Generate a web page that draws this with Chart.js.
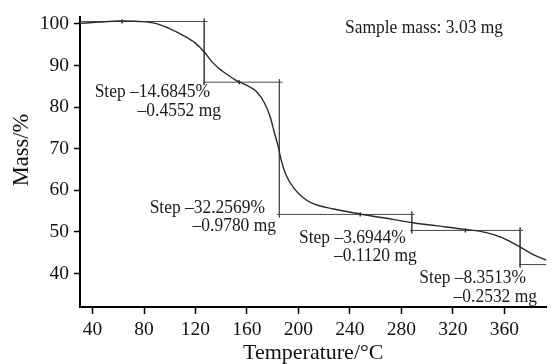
<!DOCTYPE html>
<html>
<head>
<meta charset="utf-8">
<script src="https://cdn.jsdelivr.net/npm/chart.js@4/dist/chart.umd.min.js"></script>
<style>
  html, body { margin: 0; padding: 0; background: #fff; }
  #wrap { width: 552px; height: 364px; }
</style>
</head>
<body>
<div id="wrap"><canvas id="tga"></canvas></div>
<script>
// TG curve (temperature in °C, mass in %)
const temps = [30.3, 45, 61, 76, 89, 99.4, 109.6, 119.9, 127, 132.6, 137.8, 143, 151.8, 154, 159.5, 167.2, 173.6, 177.9, 181.3, 184.4, 186.4, 190.2, 196.7, 203.1, 210, 227.4, 248, 273.5, 289, 306.7, 329.8, 345.2, 357.9, 365.6, 372, 381, 392.8];
const mass  = [100.15, 100.45, 100.7, 100.6, 100.15, 98.95, 97.4, 95.4, 93.2, 91.0, 89.4, 88.2, 86.4, 86.1, 85.3, 83.8, 81.0, 77.8, 73.9, 70.4, 67.5, 63.8, 60.4, 58.4, 57.0, 55.5, 54.3, 53.0, 52.2, 51.5, 50.6, 49.9, 48.7, 47.5, 46.4, 44.8, 43.2];

// step evaluation
const stepTemps  = [126.8, 185.2, 288.1, 372.3];
const stepLevels = [100.6, 86.0, 54.2, 50.35, 42.15];
const levelFrom  = [30.3, 125.8, 183.3, 286.8, 371.5];
const levelTo    = [129.3, 187.7, 290.1, 374.7, 392.8];
const refTemps   = [63, 154, 248, 329.8];
const stepPct    = ['Step \u201314.6845%', 'Step \u201332.2569%', 'Step \u20133.6944%', 'Step \u20138.3513%'];
const stepMass   = ['\u20130.4552 mg', '\u20130.9780 mg', '\u20130.1120 mg', '\u20130.2532 mg'];

// axis ticks
const xTicks = [40, 80, 120, 160, 200, 240, 280, 320, 360];
const yTicks = [40, 50, 60, 70, 80, 90, 100];

const SERIF = '"Liberation Serif", "Times New Roman", serif';

// where the step texts sit (right edge and middle of first line, px)
const labelAt = [[210, 92], [265, 207.5], [405.7, 237.5], [526, 278.3]];

const curve = temps.map((t, i) => ({ x: t, y: mass[i] }));

// construction lines, null points break the segments
const overhang = 0.7;
const guides = [];
levelFrom.forEach((f, i) => {
  guides.push({ x: f, y: stepLevels[i] }, { x: levelTo[i], y: stepLevels[i] }, { x: levelTo[i], y: null });
});
stepTemps.forEach((t, i) => {
  guides.push({ x: t, y: stepLevels[i] + overhang }, { x: t, y: stepLevels[i + 1] - overhang }, { x: t, y: null });
});
const refMarks = refTemps.map((t, i) => ({ x: t, y: stepLevels[i] }));

// text a bit narrower than it is tall, like the scan
function squeezed(ctx, text, x, y) {
  ctx.save();
  ctx.translate(x, y);
  ctx.scale(0.9, 1);
  ctx.fillText(text, 0, 0);
  ctx.restore();
}

const textPlugin = {
  id: 'stepText',
  afterDatasetsDraw(chart) {
    const ctx = chart.ctx;
    ctx.save();
    ctx.fillStyle = '#1a1a1a';
    ctx.font = '19.4px ' + SERIF;
    ctx.textBaseline = 'middle';
    ctx.textAlign = 'right';
    labelAt.forEach((p, i) => {
      squeezed(ctx, stepPct[i], p[0], p[1]);
      squeezed(ctx, stepMass[i], p[0] + 11, p[1] + 18.5);
    });
    ctx.textAlign = 'left';
    squeezed(ctx, 'Sample mass: 3.03 mg', 345, 28);

    // y axis title
    ctx.font = '22.5px ' + SERIF;
    ctx.textAlign = 'center';
    ctx.fillStyle = '#111';
    ctx.translate(22, 150);
    ctx.rotate(-Math.PI / 2);
    ctx.fillText('Mass/%', 0, 0);
    ctx.restore();
  }
};

new Chart(document.getElementById('tga'), {
  type: 'scatter',
  data: {
    datasets: [
      {
        data: curve,
        showLine: true,
        borderColor: '#2a2a2a',
        borderWidth: 1.4,
        pointRadius: 0,
        cubicInterpolationMode: 'monotone'
      },
      {
        data: guides,
        showLine: true,
        spanGaps: false,
        borderColor: '#4a4a4a',
        borderWidth: 1,
        pointRadius: 0
      },
      {
        data: refMarks,
        showLine: false,
        pointStyle: 'line',
        rotation: 90,
        pointRadius: 2,
        borderColor: '#222',
        borderWidth: 1.5
      }
    ]
  },
  options: {
    responsive: true,
    maintainAspectRatio: false,
    animation: false,
    layout: { padding: { top: 15, right: 0, left: 0, bottom: 0 } },
    plugins: { legend: { display: false }, tooltip: { enabled: false } },
    scales: {
      x: {
        type: 'linear',
        min: 30.25,
        max: 392.8,
        afterBuildTicks: s => { s.ticks = xTicks.map(v => ({ value: v })); },
        afterFit: s => { s.height = 57; },
        border: { color: '#000', width: 2 },
        grid: { drawOnChartArea: false, drawTicks: true, tickLength: 7, tickColor: '#000', tickWidth: 1.5 },
        ticks: { color: '#111', padding: 4, maxRotation: 0, font: { family: SERIF, size: 19.5 } },
        title: {
          display: true,
          text: 'Temperature/°C',
          color: '#111',
          padding: 0,
          font: { family: SERIF, size: 22, lineHeight: 1 }
        }
      },
      y: {
        type: 'linear',
        min: 31.94,
        max: 101.75,
        afterBuildTicks: s => { s.ticks = yTicks.map(v => ({ value: v })); },
        afterFit: s => { s.width = 80; },
        border: { color: '#000', width: 2 },
        grid: { drawOnChartArea: false, drawTicks: true, tickLength: 6, tickColor: '#000', tickWidth: 1.5 },
        ticks: { color: '#111', padding: 5, font: { family: SERIF, size: 19.5 } },
        title: { display: false }
      }
    }
  },
  plugins: [textPlugin]
});
</script>
</body>
</html>
